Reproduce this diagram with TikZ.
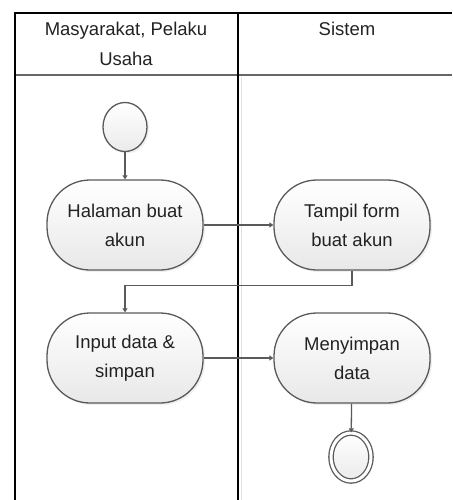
\documentclass[tikz,border=0pt]{standalone}
\usepackage{fontspec}
\setmainfont{Liberation Sans}
\usetikzlibrary{arrows.meta,shapes.geometric,shadows}

\definecolor{edgegray}{HTML}{5A5A5A}
\definecolor{textgray}{HTML}{222222}

\begin{document}
\begin{tikzpicture}[x=1pt,y=-1pt,
    activity/.style ={rectangle, rounded corners=43pt, draw=edgegray, line width=1.3pt,
        top color=white, bottom color=black!9, minimum width=156pt, minimum height=90pt,
        align=center, font=\fontsize{18.5}{29}\selectfont, text=textgray,
        drop shadow={opacity=0.12, shadow xshift=2pt, shadow yshift=-2pt}},
    startstate/.style ={ellipse, draw=edgegray, line width=1.3pt, top color=white, bottom color=black!8,
        minimum width=44pt, minimum height=49pt, inner sep=0pt,
        drop shadow={opacity=0.12, shadow xshift=2pt, shadow yshift=-2pt}},
    endstate/.style ={ellipse, draw=edgegray, line width=1.3pt, double=white, double distance=3pt,
        top color=white, bottom color=black!8, minimum width=40pt, minimum height=48pt, inner sep=0pt,
        drop shadow={opacity=0.12, shadow xshift=2pt, shadow yshift=-2pt}},
    flow/.style ={draw=edgegray, line width=1.3pt, -{Triangle[width=5pt,length=4pt]}},
    lane/.style ={draw=black, line width=2.2pt},
    header/.style ={align=center, font=\fontsize{18.5}{30}\selectfont, text=textgray}]
   \useasboundingbox (0,0) rectangle (452,500);

   % swimlanes
   \draw[black!12, line width=1pt] (241,77) -- (241,500);
   \draw[black!60, line width=2pt] (15,75) -- (452,75);
   \draw[lane] (15,500) -- (15,13) -- (452,13);
   \draw[lane] (238,13) -- (238,500);
   \node[header] (laneA) at (126,44) {Masyarakat, Pelaku\\Usaha};
   \node[header] (laneB) at (347,29) {Sistem};

   \node[startstate] (start) at (125,127) {};
   \node[activity] (halaman) at (125,225) {Halaman buat\\akun};
   \node[activity] (tampil) at (352,225) {Tampil form\\buat akun};
   \node[activity] (input) at (125,358) {Input data \&\\simpan};
   \node[activity] (simpan) at (352,358) {Menyimpan\\data};
   \node[endstate] (stop) at (351,457) {};

   \draw[flow] (start) to (halaman);
   \draw[flow] (halaman) to (tampil);
   \draw[flow] (tampil.south) -- ++(0,15) -| (input.north);
   \draw[flow] (input) to (simpan);
   \draw[flow] (simpan) to (stop);
 \end{tikzpicture}
\end{document}
